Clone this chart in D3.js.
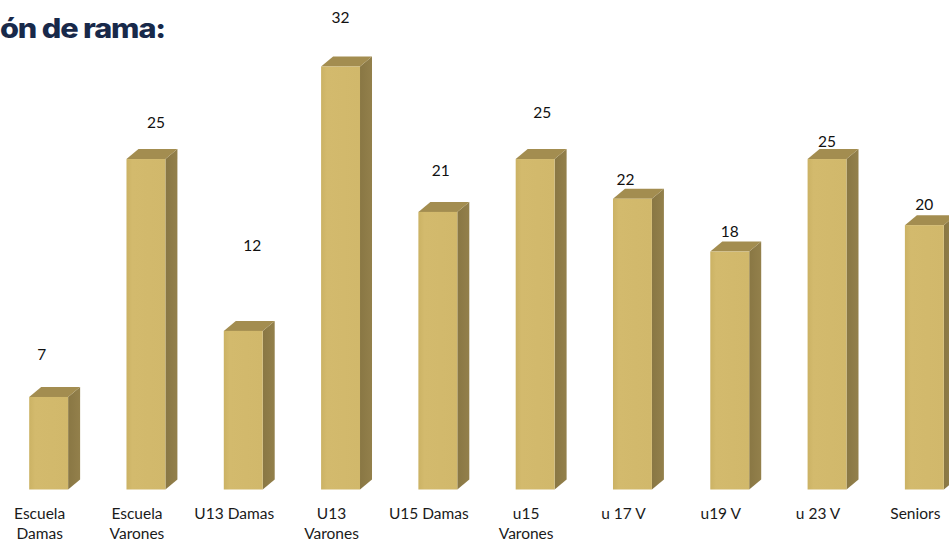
<!DOCTYPE html>
<html>
<head>
<meta charset="utf-8">
<script src="https://cdn.jsdelivr.net/npm/d3@7"></script>
<style>
  html, body { margin: 0; padding: 0; background: #ffffff; overflow: hidden; }
  svg { display: block; }
</style>
</head>
<body>
<svg id="chart" width="949" height="542"></svg>
<script>
// ---- data ----
const categories = ["Escuela\nDamas", "Escuela\nVarones", "U13 Damas", "U13\nVarones", "U15 Damas",
                    "u15\nVarones", "u 17 V", "u19 V", "u 23 V", "Seniors"];
const values = [7, 25, 12, 32, 21, 25, 22, 18, 25, 20];
const titleText = "ón de rama:";

// ---- layout (positions of value labels as drawn in the source) ----
const labelShiftX = [-7, 10, 9, 0, 3, 7, -7, 0, 0, 0];
const labelLift = [42, 36, 85, 49, 41, 46, 19, 20, 17, 21];

const W = 949, H = 542;
const svg = d3.select("#chart");

const x = d3.scaleBand().domain(categories).range([0, 973]).paddingInner(0.6).paddingOuter(0.3);
const y = d3.scaleLinear().domain([0, 32]).range([489.5, 66.5]);
const dx = 12, dy = 10;

// gradient for front face
const defs = svg.append("defs");
const g1 = defs.append("linearGradient").attr("id", "front").attr("x1", "0").attr("x2", "1").attr("y1", "0").attr("y2", "0");
g1.append("stop").attr("offset", "0%").attr("stop-color", "#cbb264");
g1.append("stop").attr("offset", "15%").attr("stop-color", "#d3ba6d");
g1.append("stop").attr("offset", "100%").attr("stop-color", "#d1b86b");
const g2 = defs.append("linearGradient").attr("id", "side").attr("x1", "0").attr("x2", "1").attr("y1", "0").attr("y2", "0");
g2.append("stop").attr("offset", "0%").attr("stop-color", "#897744");
g2.append("stop").attr("offset", "100%").attr("stop-color", "#93804b");

const data = categories.map((c, i) => ({ c, v: values[i], i }));

const bars = svg.append("g").selectAll("g").data(data).join("g");
// side face
bars.append("path")
  .attr("fill", "url(#side)")
  .attr("d", d => {
    const x1 = x(d.c) + x.bandwidth(), yt = y(d.v), yb = y(0);
    return `M${x1},${yt} L${x1 + dx},${yt - dy} L${x1 + dx},${yb - dy} L${x1},${yb} Z`;
  });
// top face
bars.append("path")
  .attr("fill", "#a38d50")
  .attr("d", d => {
    const x0 = x(d.c), x1 = x0 + x.bandwidth(), yt = y(d.v);
    return `M${x0},${yt} L${x0 + dx},${yt - dy} L${x1 + dx},${yt - dy} L${x1},${yt} Z`;
  });
// front face
bars.append("rect")
  .attr("fill", "url(#front)")
  .attr("x", d => x(d.c))
  .attr("y", d => y(d.v))
  .attr("width", x.bandwidth())
  .attr("height", d => y(0) - y(d.v));

// value labels
svg.append("g").selectAll("text").data(data).join("text")
  .attr("x", d => x(d.c) + x.bandwidth() / 2 + labelShiftX[d.i])
  .attr("y", d => y(d.v) - labelLift[d.i])
  .attr("dy", "0.35em")
  .attr("text-anchor", "middle")
  .attr("font-family", "Lato, 'Open Sans', sans-serif")
  .attr("font-size", 15.5)
  .attr("fill", "#111")
  .text(d => d.v);

// category labels
const xl = svg.append("g").selectAll("text").data(data).join("text")
  .attr("text-anchor", "middle")
  .attr("font-family", "Lato, 'Open Sans', sans-serif")
  .attr("font-size", 15.5)
  .attr("fill", "#1a1a1a");
xl.each(function(d) {
  const lines = d.c.split("\n");
  const t = d3.select(this);
  lines.forEach((ln, k) => {
    t.append("tspan")
      .attr("x", x(d.c) + x.bandwidth() / 2 - 9)
      .attr("y", 519 + k * 19.5)
      .text(ln);
  });
});

// title (clipped heading fragment)
svg.append("text")
  .attr("x", 0)
  .attr("y", 38)
  .attr("font-family", "Inter, 'DejaVu Sans', sans-serif")
  .attr("font-weight", 800)
  .attr("font-size", 27)
  .attr("letter-spacing", -1)
  .attr("fill", "#18294a")
  .attr("textLength", 165)
  .attr("lengthAdjust", "spacingAndGlyphs")
  .text(titleText);
</script>
</body>
</html>
